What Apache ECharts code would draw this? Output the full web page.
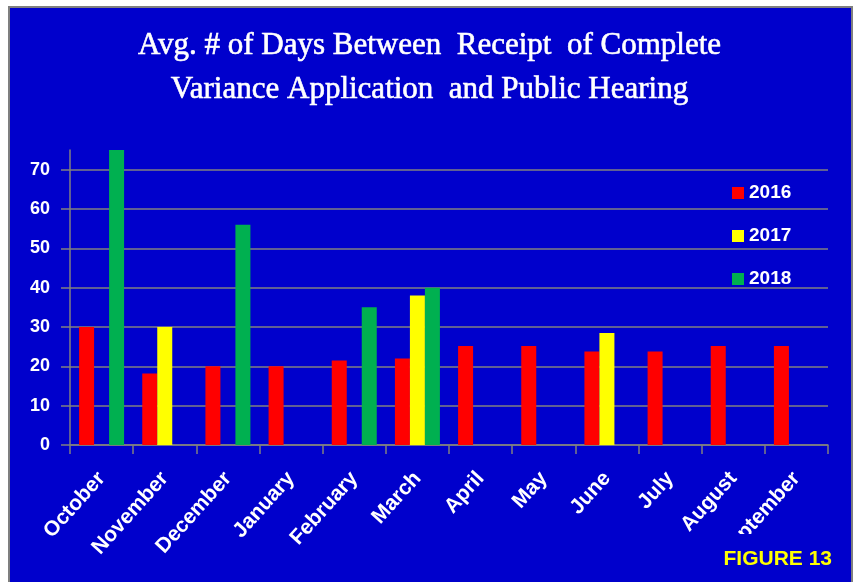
<!DOCTYPE html>
<html>
<head>
<meta charset="utf-8">
<script src="https://cdn.jsdelivr.net/npm/echarts@6/dist/echarts.min.js"></script>
<style>
  html, body { margin: 0; padding: 0; background: #fff; }
  #chart { width: 859px; height: 582px; }
</style>
</head>
<body>
<div id="chart"></div>
<script>
// months of the fiscal year, Oct -> Sep
const months = ['October', 'November', 'December', 'January', 'February', 'March',
    'April', 'May', 'June', 'July', 'August', 'September'];

const years = ['2016', '2017', '2018'];

// avg days (null = no bar)
const days2016 = [30, 18.2, 20, 20, 21.5, 22, 25.2, 25.2, 23.8, 23.8, 25.2, 25.2];
const days2017 = [null, 30, null, null, null, 38, null, null, 28.5, null, null, null];
const days2018 = [75, null, 56, null, 35, 40, null, null, null, null, null, null];

const yTicks = [0, 75, 10];  // min, max, step

const barColors = ['#ff0000', '#ffff00', '#00b050'];
const panelBlue = '#0000cc';

window.addEventListener('DOMContentLoaded', () => {
    const chart = echarts.init(document.getElementById('chart'), null, {renderer: 'canvas'});
    const seriesData = [days2016, days2017, days2018];

    const option = {
        backgroundColor: '#ffffff',
        animation: false,
        title: {
            text: 'Avg. # of Days Between  Receipt  of Complete\nVariance Application  and Public Hearing',
            left: 'center',
            top: 24,
            padding: 0,
            textStyle: {
                color: '#ffffff',
                fontFamily: 'Liberation Serif',
                fontWeight: 'normal',
                fontSize: 31,
                lineHeight: 44,
                textBorderColor: '#ffffff',
                textBorderWidth: 0.6
            }
        },
        graphic: [
            {
                type: 'rect',
                z: -10,
                shape: {x: 9, y: 7, width: 843, height: 590},
                style: {fill: panelBlue, stroke: '#7f7f7f', lineWidth: 2}
            },
            {
                // the original cuts the last month label off at the bottom
                type: 'rect',
                z: 100,
                shape: {x: 700, y: 534, width: 151, height: 60},
                style: {fill: panelBlue}
            },
            {
                type: 'text',
                z: 101,
                right: 27,
                top: 549,
                style: {
                    text: 'FIGURE 13',
                    fill: '#ffff00',
                    font: 'bold 21px "Liberation Sans"'
                }
            }
        ],
        legend: {
            orient: 'vertical',
            left: 727,
            top: 178,
            itemWidth: 12,
            itemHeight: 12,
            itemGap: 23,
            icon: 'rect',
            data: years,
            textStyle: {
                color: '#ffffff',
                fontFamily: 'Liberation Sans',
                fontWeight: 'bold',
                fontSize: 19,
                lineHeight: 20
            }
        },
        grid: {left: 70, right: 31, top: 150, bottom: 137, containLabel: false},
        xAxis: {
            type: 'category',
            data: months,
            axisLine: {lineStyle: {color: '#808080', width: 1.5}},
            axisTick: {show: true, length: 9, lineStyle: {color: '#808080', width: 1.5}},
            axisLabel: {
                rotate: 48,
                interval: 0,
                margin: 30,
                color: '#ffffff',
                fontFamily: 'Liberation Sans',
                fontWeight: 'bold',
                fontSize: 21
            }
        },
        yAxis: {
            type: 'value',
            min: yTicks[0],
            max: yTicks[1],
            interval: yTicks[2],
            axisLine: {show: true, lineStyle: {color: '#808080', width: 1.5}},
            axisTick: {show: true, length: 9, lineStyle: {color: '#808080', width: 1.5}},
            splitLine: {show: true, showMaxLine: false, lineStyle: {color: '#808080', width: 1.5}},
            axisLabel: {
                showMaxLabel: false,
                margin: 20,
                color: '#ffffff',
                fontFamily: 'Liberation Sans',
                fontWeight: 'bold',
                fontSize: 18
            }
        },
        series: years.map((name, i) => ({
            name: name,
            type: 'bar',
            data: seriesData[i],
            barWidth: 15,
            barGap: '0%',
            itemStyle: {color: barColors[i]}
        }))
    };

    chart.setOption(option);
});
</script>
</body>
</html>
